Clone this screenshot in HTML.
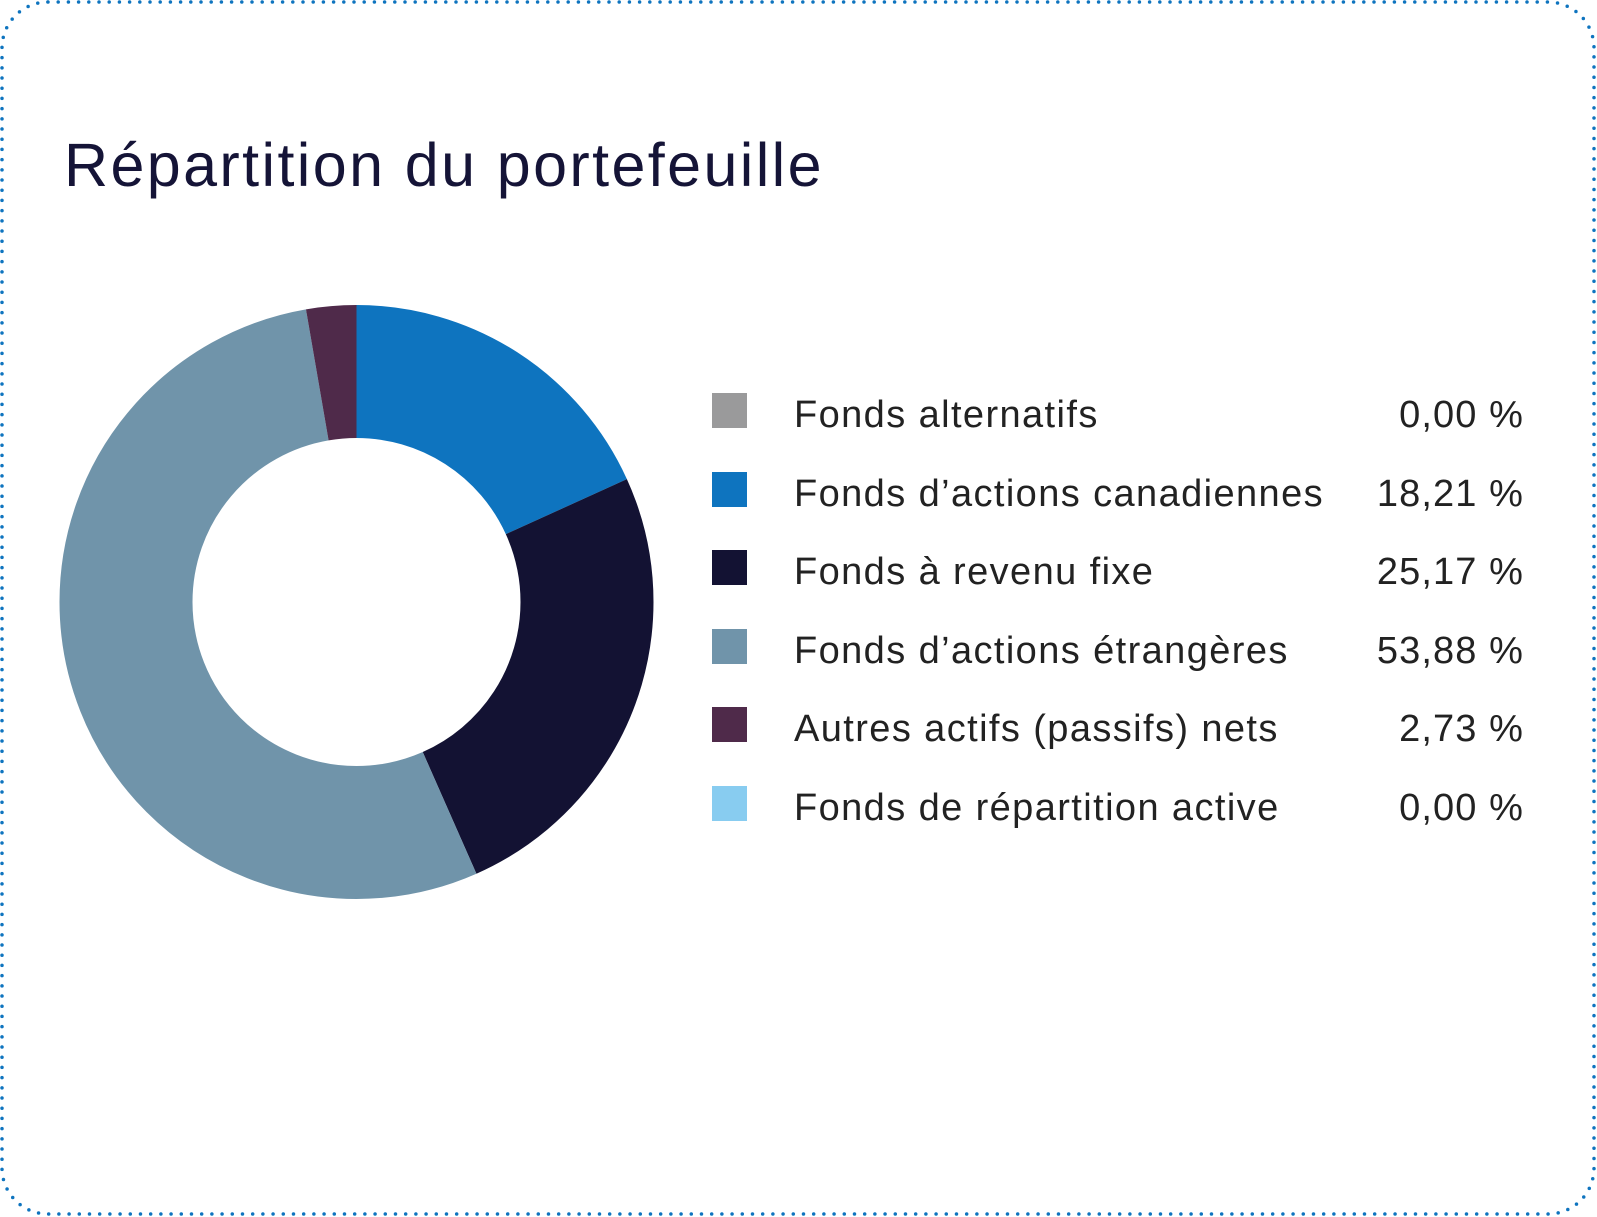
<!DOCTYPE html>
<html><head><meta charset="utf-8"><style>
html,body{margin:0;padding:0;background:#fff;}
body{width:1597px;height:1217px;position:relative;overflow:hidden;font-family:"Liberation Sans",sans-serif;}
.t{position:absolute;left:64px;top:130px;font-size:61px;color:#151437;white-space:nowrap;letter-spacing:2.4px;}
.sq{position:absolute;left:712px;width:35px;height:35px;}
.lb{position:absolute;left:794px;font-size:38px;color:#222;white-space:nowrap;line-height:40px;letter-spacing:1.4px;}
.v{position:absolute;right:73px;font-size:38px;color:#222;white-space:nowrap;line-height:40px;letter-spacing:1.1px;}
</style></head><body>
<svg width="1597" height="1217" style="position:absolute;left:0;top:0">
<rect x="2" y="2" width="1592" height="1212" rx="46" ry="46" fill="none" stroke="#0e74bf" stroke-width="3.5" stroke-linecap="round" stroke-dasharray="0 10.2"/>
<g transform="rotate(-90 356.5 602)">
<circle cx="356.5" cy="602" r="230.5" fill="none" stroke="#0e74bf" stroke-width="133" stroke-dasharray="263.7 2000" stroke-dashoffset="0"/>
<circle cx="356.5" cy="602" r="230.5" fill="none" stroke="#131233" stroke-width="133" stroke-dasharray="364.5 2000" stroke-dashoffset="-263.7"/>
<circle cx="356.5" cy="602" r="230.5" fill="none" stroke="#7094aa" stroke-width="133" stroke-dasharray="780.4 2000" stroke-dashoffset="-628.2"/>
<circle cx="356.5" cy="602" r="230.5" fill="none" stroke="#4f2a4a" stroke-width="133" stroke-dasharray="39.7 2000" stroke-dashoffset="-1408.6"/>
</g>
</svg>
<div class="t">Répartition du portefeuille</div>
<div class="sq" style="top:393px;background:#9a9a9b"></div>
<div class="sq" style="top:472px;background:#0e74bf"></div>
<div class="sq" style="top:550px;background:#131233"></div>
<div class="sq" style="top:629px;background:#7094aa"></div>
<div class="sq" style="top:707px;background:#4f2a4a"></div>
<div class="sq" style="top:786px;background:#88ccf0"></div>
<div class="lb" style="top:395px">Fonds alternatifs</div>
<div class="lb" style="top:474px">Fonds d’actions canadiennes</div>
<div class="lb" style="top:552px">Fonds à revenu fixe</div>
<div class="lb" style="top:631px">Fonds d’actions étrangères</div>
<div class="lb" style="top:709px">Autres actifs (passifs) nets</div>
<div class="lb" style="top:788px">Fonds de répartition active</div>
<div class="v" style="top:395px">0,00 %</div>
<div class="v" style="top:474px">18,21 %</div>
<div class="v" style="top:552px">25,17 %</div>
<div class="v" style="top:631px">53,88 %</div>
<div class="v" style="top:709px">2,73 %</div>
<div class="v" style="top:788px">0,00 %</div>
</body></html>
